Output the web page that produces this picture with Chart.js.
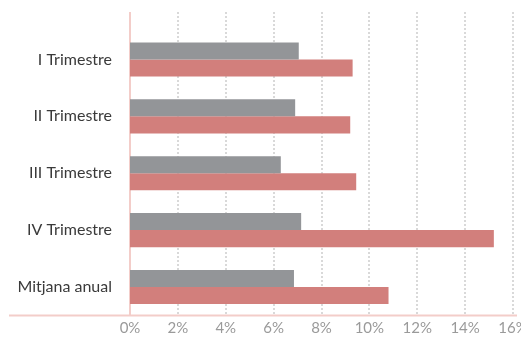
<!DOCTYPE html>
<html>
<head>
<meta charset="utf-8">
<script src="https://cdn.jsdelivr.net/npm/chart.js@4"></script>
<style>
  html, body { margin: 0; padding: 0; background: #fff; overflow: hidden; }
  #wrap { width: 540px; height: 343px; }
</style>
</head>
<body>
<div id="wrap"><canvas id="chart"></canvas></div>
<script>
// Categories and series values (percent)
const categories = ["I Trimestre", "II Trimestre", "III Trimestre", "IV Trimestre", "Mitjana anual"];
const serieGris = [7.05, 6.9, 6.3, 7.15, 6.85];
const serieRosa = [9.3, 9.2, 9.45, 15.2, 10.8];
const xTicks = [0, 2, 4, 6, 8, 10, 12, 14, 16];

// Draws the dotted grid, the zero line and the long bottom rule
const axisLines = {
    id: "axisLines",
    beforeDatasetsDraw(chart) {
        const ctx = chart.ctx;
        const x = chart.scales.x;
        const area = chart.chartArea;
        const top = 12;
        ctx.save();
        ctx.lineWidth = 2;
        ctx.strokeStyle = "#d9d9d9";
        ctx.setLineDash([2, 2]);
        xTicks.forEach(t => {
            if (t === 0) return;
            const px = Math.round(x.getPixelForValue(t));
            ctx.beginPath();
            ctx.moveTo(px, top);
            ctx.lineTo(px, area.bottom);
            ctx.stroke();
        });
        ctx.setLineDash([]);
        ctx.strokeStyle = "#f3cdc9";
        const x0 = x.getPixelForValue(0);
        ctx.beginPath();
        ctx.moveTo(x0, top);
        ctx.lineTo(x0, area.bottom);
        ctx.stroke();
        ctx.beginPath();
        ctx.moveTo(9, area.bottom);
        ctx.lineTo(517, area.bottom);
        ctx.stroke();
        ctx.restore();
    }
};

new Chart(document.getElementById("chart"), {
    type: "bar",
    data: {
        labels: categories,
        datasets: [
            { label: "Sèrie 1", data: serieGris, backgroundColor: "#939598", borderWidth: 0 },
            { label: "Sèrie 2", data: serieRosa, backgroundColor: "#d27f7c", borderWidth: 0 }
        ]
    },
    options: {
        indexAxis: "y",
        responsive: true,
        maintainAspectRatio: false,
        animation: false,
        categoryPercentage: 0.6,
        barPercentage: 1,
        layout: { padding: { top: 31, left: 0, right: 27, bottom: 0 } },
        plugins: {
            legend: { display: false },
            tooltip: { enabled: false }
        },
        scales: {
            x: {
                min: 0,
                max: 16,
                afterBuildTicks: scale => { scale.ticks = xTicks.map(v => ({ value: v })); },
                grid: { display: false, drawTicks: false },
                border: { display: false },
                ticks: {
                    color: "#9a9a9a",
                    font: { family: "Lato", size: 15 },
                    padding: 4,
                    maxRotation: 0,
                    callback: v => v + "%"
                },
                afterFit: scale => { scale.height = 21; }
            },
            y: {
                grid: { display: false, drawTicks: false },
                border: { display: false },
                ticks: {
                    color: "#3a3a3a",
                    font: { family: "Lato", size: 16 },
                    padding: 18
                },
                afterFit: scale => { scale.width = 130; }
            }
        }
    },
    plugins: [axisLines]
});
</script>
</body>
</html>
